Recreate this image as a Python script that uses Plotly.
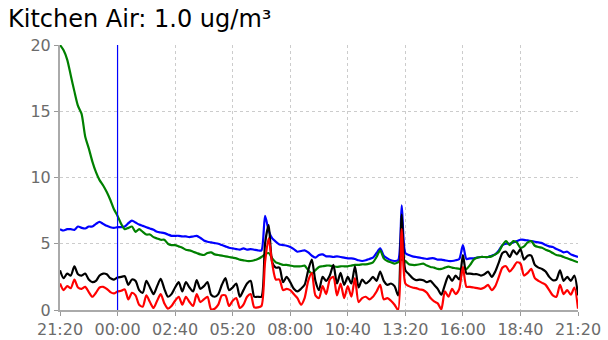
import pandas as pd
import plotly.graph_objects as go

TITLE = "Kitchen Air: 1.0 ug/m³"
START = "2024-01-01 21:20"
END = "2024-01-02 21:20"
STEP = "10min"
MARKER_TIME = "2024-01-02 00:00"

tick_labels = ["21:20", "00:00", "02:40", "05:20", "08:00", "10:40",
               "13:20", "16:00", "18:40", "21:20"]

green = [20.0, 19.6, 18.9, 17.7, 16.5, 15.4, 14.8, 13.1, 12.2, 11.2,
         10.4, 9.8, 9.4, 8.9, 8.3, 7.6, 7.1, 6.5, 6.1, 6.2,
         6.3, 5.9, 6.1, 5.9, 5.7, 5.7, 5.5, 5.4, 5.3, 5.3,
         5.0, 4.9, 4.9, 4.8, 4.7, 4.55, 4.5, 4.4, 4.3, 4.2,
         4.15, 4.3, 4.35, 4.2, 4.15, 4.1, 4.05, 4.0, 3.95, 3.9,
         3.8, 3.75, 3.7, 3.7, 3.75, 3.85, 4.0, 4.2, 4.3, 3.9,
         3.6, 3.5, 3.4, 3.4, 3.35, 3.3, 3.3, 3.3, 3.35, 3.0,
         2.75, 3.0, 3.25, 3.3, 3.35, 3.35, 3.3, 3.25, 3.3, 3.3,
         3.3, 3.35, 3.4, 3.4, 3.45, 3.45, 3.5, 3.6, 4.0, 4.5,
         3.9, 3.7, 3.6, 3.5, 3.6, 3.8, 3.7, 3.45, 3.4, 3.4,
         3.45, 3.5, 3.35, 3.25, 3.2, 3.1, 3.1, 3.2, 3.27, 3.2,
         3.15, 3.1, 3.1, 3.1, 3.4, 3.8, 3.95, 4.0, 4.0, 4.0,
         4.05, 4.2, 4.4, 4.9, 5.2, 4.9, 5.2, 5.1, 4.7, 4.8,
         5.1, 5.2, 4.85, 4.75, 4.7, 4.55, 4.45, 4.3, 4.15, 4.1,
         4.0, 3.9, 3.8, 3.7, 3.6]

blue = [6.1, 6.0, 6.1, 6.1, 6.05, 6.3, 6.2, 6.15, 6.3, 6.3,
        6.5, 6.65, 6.5, 6.35, 6.25, 6.2, 6.25, 6.25, 6.3, 6.55,
        6.75, 6.6, 6.45, 6.35, 6.25, 6.15, 6.05, 5.9, 5.85, 5.8,
        5.7, 5.6, 5.6, 5.6, 5.55, 5.55, 5.5, 5.55, 5.6, 5.45,
        5.25, 5.15, 5.1, 5.05, 5.0, 4.9, 4.8, 4.7, 4.65, 4.6,
        4.55, 4.65, 4.55, 4.6, 4.55, 4.5, 4.5, 7.1, 6.0, 5.4,
        5.15, 4.95, 4.9, 4.85, 4.75, 4.6, 4.4, 4.45, 4.5, 4.35,
        4.1, 3.95, 4.15, 4.2, 4.05, 4.05, 4.0, 4.05, 4.0, 3.95,
        3.9, 3.9, 3.85, 3.75, 3.7, 3.75, 3.85, 3.95, 4.3, 4.65,
        4.1, 3.9, 3.75, 3.7, 3.75, 7.9, 4.3, 4.15, 4.05, 4.0,
        3.95, 3.9, 3.85, 3.9, 3.9, 3.8, 3.8, 3.75, 3.7, 3.7,
        3.75, 3.85, 4.9, 3.85, 3.9, 3.9, 3.95, 4.0, 4.0, 4.0,
        4.1, 4.2, 4.5, 4.9, 5.0, 5.0, 5.1, 5.2, 5.3, 5.3,
        5.25, 5.2, 5.15, 5.1, 5.05, 4.9, 4.8, 4.75, 4.6, 4.5,
        4.35, 4.4, 4.2, 4.1, 4.0]

black = [3.0, 2.4, 2.75, 2.6, 3.3, 2.7, 2.6, 2.75, 2.3, 2.1,
         2.2, 2.6, 2.75, 2.7, 2.4, 2.3, 2.45, 2.5, 2.55, 1.9,
         2.3, 2.2, 1.5, 1.3, 2.2, 1.7, 1.2, 1.8, 2.35, 1.6,
         1.0, 1.2, 1.7, 2.1, 1.4, 2.1, 1.7, 1.4, 2.25, 1.6,
         1.8, 2.1, 1.15, 1.0, 1.2, 1.9, 2.4, 1.5, 1.7, 2.0,
         1.0, 1.5, 2.0, 2.2, 1.0, 1.0, 1.0, 5.0, 6.4, 3.6,
         3.2, 3.2, 2.1, 2.5, 2.1, 1.6, 1.4, 1.6, 1.9, 3.0,
         3.8, 2.2, 1.5, 2.5, 2.2, 2.6, 3.4, 2.0, 2.8, 1.9,
         2.5, 2.0, 3.3, 1.7, 2.3, 2.0, 2.2, 2.5, 2.2, 2.9,
         2.2, 1.9, 2.0, 1.8, 1.1, 7.2, 3.0, 2.7, 2.4, 2.25,
         2.3, 2.25, 2.1, 2.2, 1.9, 1.6, 1.15, 1.9, 2.6, 2.2,
         2.6, 2.3, 4.15, 2.75, 2.75, 2.7, 2.7, 2.6, 2.7, 2.9,
         2.5, 2.9, 3.6, 4.3, 4.4, 4.0, 4.5, 4.2, 4.6, 3.8,
         4.1, 4.1, 3.4, 3.2, 3.1, 2.9, 2.5, 2.25, 2.3, 3.0,
         2.2, 2.5, 2.2, 2.6, 1.1]

red = [2.0, 1.5, 1.8, 1.65, 2.3, 1.7, 1.6, 1.75, 1.35, 1.0,
       1.3, 1.7, 1.75, 1.6, 1.35, 1.25, 1.4, 1.45, 1.55, 0.8,
       1.3, 1.1, 0.4, 0.25, 1.1, 0.6, 0.15, 0.7, 1.2, 0.5,
       0.1, 0.3, 0.7, 1.0, 0.4, 1.0, 0.6, 0.3, 1.2, 0.6,
       0.8, 1.0, 0.05, 0.1, 0.4, 1.1, 1.1, 0.3, 0.7, 0.9,
       0.15, 0.4, 1.0, 1.2, 0.2, 0.2, 0.3, 3.6, 5.4, 3.5,
       2.3, 2.3, 1.5, 1.6, 1.5, 1.2, 0.9, 0.4, 0.9, 2.2,
       2.8, 1.1, 0.9, 1.8, 1.2, 2.3, 2.5, 1.1, 2.0, 0.9,
       1.8, 1.0, 2.4, 0.6, 0.9, 1.0, 0.8, 1.0, 1.4, 1.9,
       0.8, 0.9, 0.7, 0.4, 0.0, 6.1, 2.0, 1.8, 1.7, 1.65,
       1.55, 1.5, 1.3, 0.9, 0.65, 0.5, 0.05, 1.4, 1.0, 1.6,
       1.2, 1.6, 3.25, 1.75, 1.75, 1.7, 1.65, 1.6, 1.7, 1.9,
       1.5, 1.8, 2.5, 3.2, 3.3, 2.9, 3.2, 3.6, 3.5, 2.6,
       2.8, 3.1, 2.4, 2.2, 2.05, 1.9, 1.5, 1.1, 1.0, 1.9,
       1.2, 1.5, 1.15, 1.7, 0.1]

times = pd.date_range(START, periods=len(green), freq=STEP)
tick_vals = pd.date_range(START, END, periods=len(tick_labels))

fig = go.Figure()
for vals, col in [(blue, "#0000ff"), (green, "#008000"),
                  (black, "#000000"), (red, "#ff0000")]:
    fig.add_trace(go.Scatter(x=times, y=vals, mode="lines",
                             line=dict(color=col, width=2.2, shape="spline", smoothing=0.7),
                             showlegend=False, hoverinfo="skip", cliponaxis=True))

fig.add_shape(type="line", xref="x", yref="paper", x0=MARKER_TIME, x1=MARKER_TIME,
              y0=0, y1=1, line=dict(color="#0000ff", width=1.2), layer="above")

FONT = "DejaVu Sans"
fig.update_layout(
    width=608, height=340,
    margin=dict(l=60, r=30, t=45, b=30, autoexpand=False),
    paper_bgcolor="white", plot_bgcolor="white",
    font=dict(family=FONT, size=16, color="#6b6b6b"),
    title=dict(text=TITLE, xref="container", yref="container", x=8/608, xanchor="left",
               y=1 - 19/340, yanchor="middle", font=dict(family=FONT, size=24, color="#000000")),
)
fig.update_xaxes(range=[START, END], tickvals=tick_vals, ticktext=tick_labels,
                 showgrid=True, gridcolor="#cccccc", griddash="3px,3px", gridwidth=1,
                 showline=True, linecolor="#aaaaaa", linewidth=2, automargin=False,
                 ticks="outside", ticklen=4, tickcolor="#999999", zeroline=False)
fig.update_yaxes(range=[0, 20], tickvals=[0, 5, 10, 15, 20],
                 showgrid=True, gridcolor="#cccccc", griddash="3px,3px", gridwidth=1,
                 showline=True, linecolor="#aaaaaa", linewidth=2, automargin=False,
                 ticks="outside", ticklen=4, tickcolor="#999999", zeroline=False)

fig.write_html("out.html")
